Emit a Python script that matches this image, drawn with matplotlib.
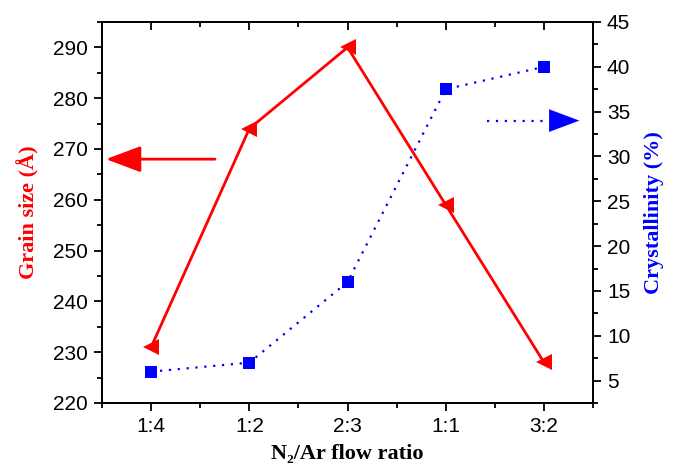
import matplotlib
matplotlib.use("Agg")
from matplotlib import pyplot as plt
from matplotlib.ticker import MultipleLocator
import numpy as np

ratios = ["1:4", "1:2", "2:3", "1:1", "3:2"]
grain_size = [231, 274, 290, 259, 228]
crystallinity = [6.0, 7.0, 16.0, 37.5, 40.0]

# arrows pointing at the axis each series belongs to
grain_arrow_y = 268
cryst_arrow_y = 34

serif = ["Liberation Serif", "DejaVu Serif"]
plt.rcParams["font.family"] = ["Liberation Sans", "DejaVu Sans"]

fig = plt.figure(figsize=(6.77, 4.68), dpi=100)
ax_1 = fig.add_axes([0.1507, 0.1389, 0.7253, 0.8141])
ax_2 = ax_1.twinx()

x = np.arange(len(ratios))

ax_1.plot(x, grain_size, color="#ff0000", linewidth=2.0, marker="<",
          markersize=11, markeredgewidth=0, zorder=3)
ax_2.plot(x, crystallinity, color="#0000ff", linewidth=1.6, linestyle=(0, (1, 3)),
          marker="s", markersize=8, markeredgewidth=0)

head = "-|>,head_length=1.2,head_width=0.45"
ax_1.annotate("", xy=(-0.46, grain_arrow_y), xytext=(0.65, grain_arrow_y),
              arrowprops=dict(arrowstyle=head, color="#ff0000", lw=2.0,
                              mutation_scale=18, shrinkA=0, shrinkB=0))
# dotted shaft, then a solid head on the end of it
ax_2.plot([3.42, 4.1], [cryst_arrow_y, cryst_arrow_y], color="#0000ff",
          linewidth=1.6, linestyle=(0, (1, 3)))
ax_2.annotate("", xy=(4.36, cryst_arrow_y), xytext=(4.1, cryst_arrow_y),
              arrowprops=dict(arrowstyle=head, color="#0000ff", lw=0.1,
                              mutation_scale=18, shrinkA=0, shrinkB=0))

ax_1.set_xlim(-0.5, 4.5)
ax_1.set_ylim(220, 295)
ax_2.set_ylim(2.5, 45)

ax_1.set_xticks(x)
ax_1.set_xticklabels(ratios)
ax_1.xaxis.set_minor_locator(MultipleLocator(0.5))
ax_1.yaxis.set_major_locator(MultipleLocator(10))
ax_1.yaxis.set_minor_locator(MultipleLocator(5))
ax_2.yaxis.set_major_locator(MultipleLocator(5))
ax_2.yaxis.set_minor_locator(MultipleLocator(2.5))

ax_1.tick_params(axis="both", which="major", direction="out", length=6, width=1.3,
                 labelsize=15, pad=4)
ax_1.tick_params(axis="both", which="minor", direction="out", length=3.5, width=1.3)
ax_1.tick_params(axis="x", which="both", top=True)
ax_2.tick_params(axis="y", which="major", direction="out", length=6, width=1.3,
                 labelsize=15, pad=4)
ax_2.tick_params(axis="y", which="minor", direction="out", length=3.5, width=1.3)

# top ticks point inward
for tick in ax_1.xaxis.get_major_ticks() + ax_1.xaxis.get_minor_ticks():
    tick.tick2line.set_marker(3)

for sp in ax_1.spines.values():
    sp.set_linewidth(1.3)
for sp in ax_2.spines.values():
    sp.set_linewidth(1.3)

ax_1.set_xlabel("N\u2082/Ar flow ratio", fontsize=16, fontweight="bold",
                family=serif, labelpad=6)
ax_1.set_ylabel("Grain size (\u00c5)", fontsize=16, fontweight="bold",
                family=serif, color="#ff0000", labelpad=10)
ax_2.set_ylabel("Crystallinity (%)", fontsize=16, fontweight="bold",
                family=serif, color="#0000ff", labelpad=10)

fig.savefig("out.png", dpi=100)
